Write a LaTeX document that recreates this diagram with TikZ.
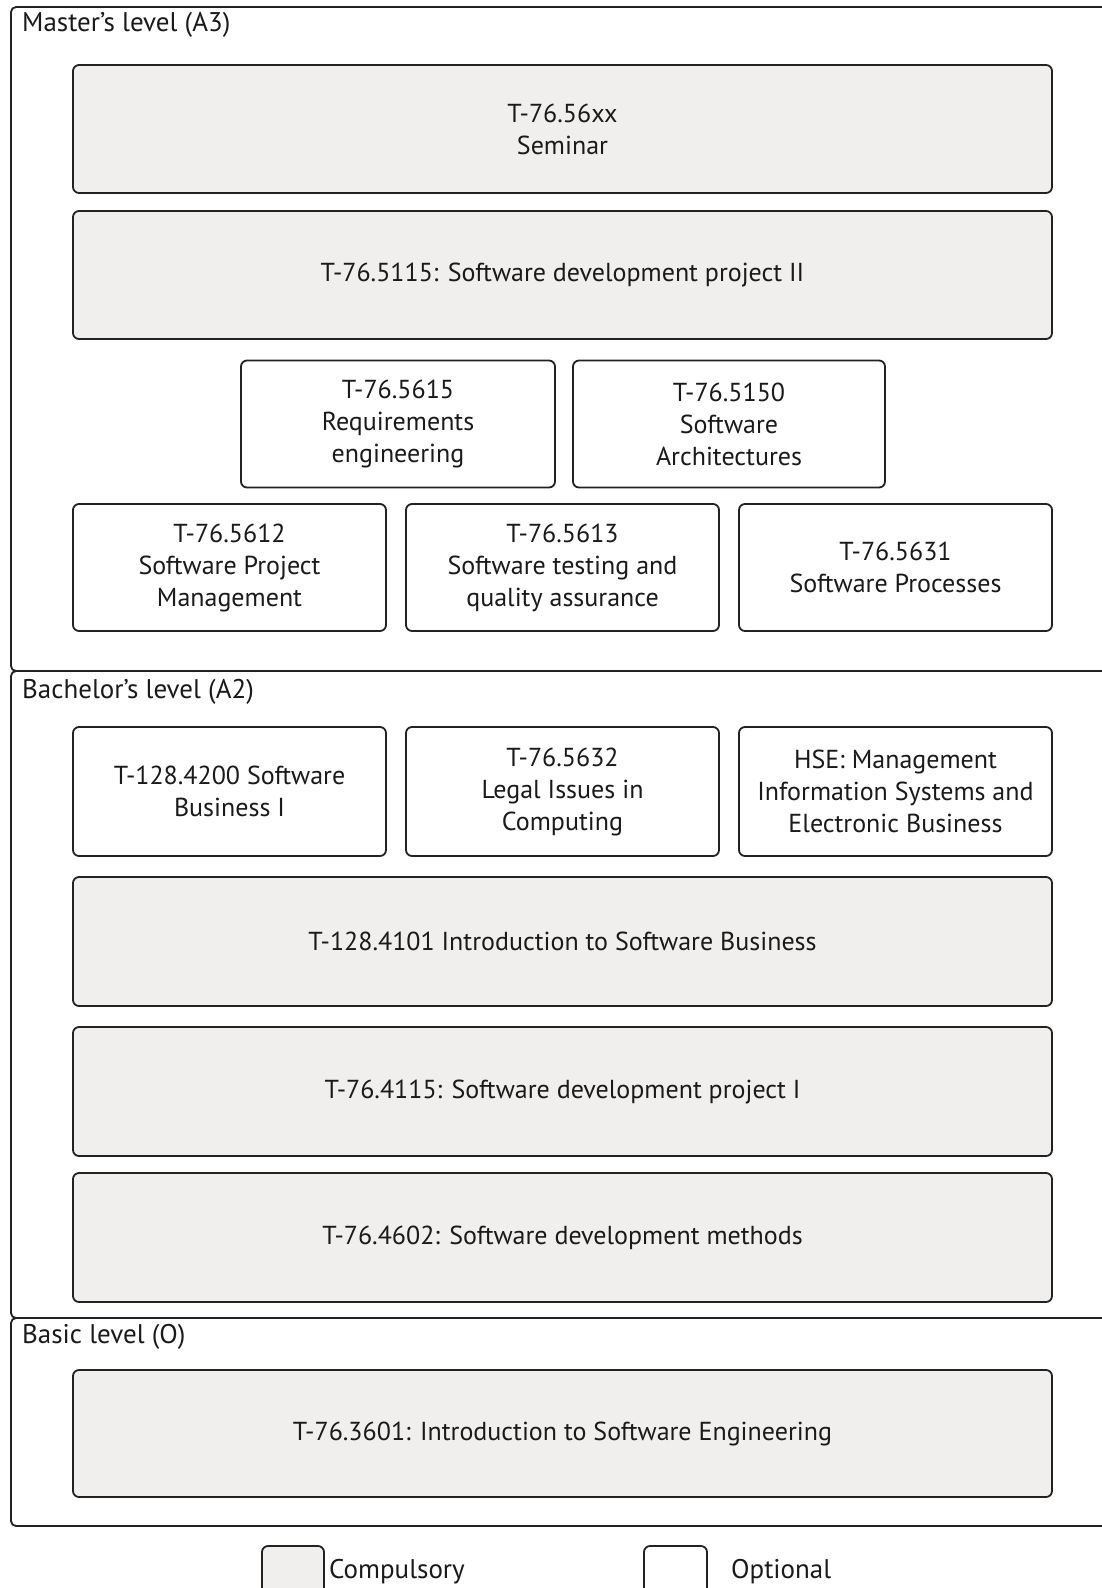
\documentclass[tikz,border=0pt]{standalone}
\usepackage{fontspec}
\setmainfont{PT Sans}
\usetikzlibrary{positioning}
\definecolor{compfill}{HTML}{F0EFED}
\definecolor{linec}{HTML}{222222}
\definecolor{txtc}{HTML}{1A1A1A}
\tikzset{
  course/.style={draw=linec, line width=1.8pt, rounded corners=6pt, align=center,
    text=txtc, font=\fontsize{26}{32}\selectfont, inner sep=4pt},
  comp/.style={course, fill=compfill},
  opt/.style={course, fill=white},
  level/.style={draw=linec, line width=1.8pt, rounded corners=5pt},
  levellabel/.style={anchor=west, text=txtc, font=\fontsize{27}{30}\selectfont, inner sep=0pt},
  legtext/.style={anchor=west, text=txtc, font=\fontsize{27}{30}\selectfont, inner sep=0pt}
}
\begin{document}
\begin{tikzpicture}[x=1pt,y=-1pt]
\useasboundingbox[fill=white] (0,0) rectangle (1102,1588);
% level containers
\node[level, minimum width=1120pt, minimum height=664pt] (master) at (571,339) {};
\node[level, minimum width=1120pt, minimum height=647pt] (bachelor) at (571,994.5) {};
\node[level, minimum width=1120pt, minimum height=208pt] (basic) at (571,1422) {};
\node[levellabel] (masterlbl) at (22,25) {Master's level (A3)};
\node[levellabel] (bachlbl) at (22,692) {Bachelor's level (A2)};
\node[levellabel] (basiclbl) at (22,1337) {Basic level (O)};
% master courses
\node[comp, minimum width=979pt, minimum height=128pt] (seminar) at (562.5,129) {T-76.56xx\\Seminar};
\node[comp, minimum width=979pt, minimum height=128pt] (proj2) at (562.5,275) {T-76.5115: Software development project II};
\node[opt, minimum width=314pt, minimum height=127pt] (req) at (398,424) {T-76.5615\\Requirements\\engineering};
\node[opt, minimum width=312pt, minimum height=127pt] (arch) at (729,424) {T-76.5150\\Software\\Architectures};
\node[opt, minimum width=313pt, minimum height=127pt] (spm) at (229.5,567.5) {T-76.5612\\Software Project\\Management};
\node[opt, minimum width=313pt, minimum height=127pt] (test) at (562.5,567.5) {T-76.5613\\Software testing and\\quality assurance};
\node[opt, minimum width=313pt, minimum height=127pt] (proc) at (895.5,567.5) {T-76.5631\\Software Processes};
% bachelor courses
\node[opt, minimum width=313pt, minimum height=129pt] (bus1) at (229.5,791.5) {T-128.4200 Software\\Business I};
\node[opt, minimum width=313pt, minimum height=129pt] (legal) at (562.5,791.5) {T-76.5632\\Legal Issues in\\Computing};
\node[opt, minimum width=313pt, minimum height=129pt] (hse) at (895.5,791.5) {HSE: Management\\Information Systems and\\Electronic Business};
\node[comp, minimum width=979pt, minimum height=129pt] (introbus) at (562.5,941.5) {T-128.4101 Introduction to Software Business};
\node[comp, minimum width=979pt, minimum height=129pt] (proj1) at (562.5,1091.5) {T-76.4115: Software development project I};
\node[comp, minimum width=979pt, minimum height=129pt] (methods) at (562.5,1237.5) {T-76.4602: Software development methods};
% basic course
\node[comp, minimum width=979pt, minimum height=127pt] (introse) at (562.5,1433.5) {T-76.3601: Introduction to Software Engineering};
% legend
\node[comp, minimum width=62pt, minimum height=58pt] (legcomp) at (293,1575) {};
\node[opt, minimum width=63pt, minimum height=58pt] (legopt) at (675.5,1575) {};
\node[legtext] (legcomptxt) at (329,1572) {Compulsory};
\node[legtext] (legopttxt) at (731,1572) {Optional};
\end{tikzpicture}
\end{document}
